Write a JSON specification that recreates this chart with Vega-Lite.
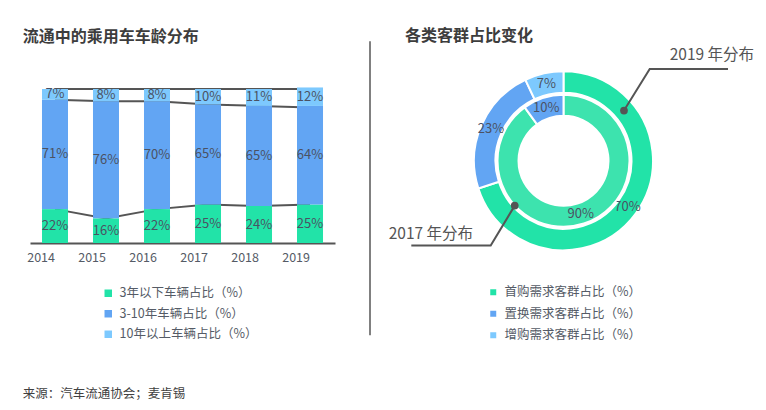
{
  "$schema": "https://vega.github.io/schema/vega-lite/v6.json",
  "background": "white",
  "padding": {"left": 22, "top": 28, "right": 0, "bottom": 0},
  "config": {"view": {"stroke": null}, "font": "Noto Sans CJK SC"},
  "title": {"text": "来源：汽车流通协会；麦肯锡", "orient": "bottom", "anchor": "start", "offset": 46, "fontSize": 12.5, "fontWeight": "normal", "color": "#404040"},
  "spacing": 34,
  "resolve": {"scale": {"color": "independent"}, "legend": {"color": "independent"}},
  "hconcat": [
    {
      "width": 305,
      "height": 154,
      "title": {"text": "流通中的乘用车车龄分布", "anchor": "start", "dx": -4, "offset": 40, "fontSize": 16, "fontWeight": "bold", "color": "#3d3d3d"},
      "layer": [
        {
          "data": {"values": [
            {"year": "2014", "b": "low", "v": 0.22}, {"year": "2015", "b": "low", "v": 0.16}, {"year": "2016", "b": "low", "v": 0.22},
            {"year": "2017", "b": "low", "v": 0.25}, {"year": "2018", "b": "low", "v": 0.24}, {"year": "2019", "b": "low", "v": 0.25},
            {"year": "2014", "b": "mid", "v": 0.93}, {"year": "2015", "b": "mid", "v": 0.92}, {"year": "2016", "b": "mid", "v": 0.92},
            {"year": "2017", "b": "mid", "v": 0.90}, {"year": "2018", "b": "mid", "v": 0.89}, {"year": "2019", "b": "mid", "v": 0.88},
            {"year": "2014", "b": "top", "v": 1.0}, {"year": "2015", "b": "top", "v": 1.0}, {"year": "2016", "b": "top", "v": 1.0},
            {"year": "2017", "b": "top", "v": 1.0}, {"year": "2018", "b": "top", "v": 1.0}, {"year": "2019", "b": "top", "v": 1.0}
          ]},
          "mark": {"type": "line", "color": "#555555", "strokeWidth": 2},
          "encoding": {
            "x": {"field": "year", "type": "ordinal", "scale": {"type": "band", "paddingInner": 0.49, "paddingOuter": 0.235}},
            "y": {"field": "v", "type": "quantitative", "axis": null},
            "detail": {"field": "b", "type": "nominal"}
          }
        },
        {
          "data": {"values": [
            {"year": "2014", "cat": "3年以下车辆占比（%）", "rank": 1, "share": 0.22},
            {"year": "2014", "cat": "3-10年车辆占比（%）", "rank": 2, "share": 0.71},
            {"year": "2014", "cat": "10年以上车辆占比（%）", "rank": 3, "share": 0.07},
            {"year": "2015", "cat": "3年以下车辆占比（%）", "rank": 1, "share": 0.16},
            {"year": "2015", "cat": "3-10年车辆占比（%）", "rank": 2, "share": 0.76},
            {"year": "2015", "cat": "10年以上车辆占比（%）", "rank": 3, "share": 0.08},
            {"year": "2016", "cat": "3年以下车辆占比（%）", "rank": 1, "share": 0.22},
            {"year": "2016", "cat": "3-10年车辆占比（%）", "rank": 2, "share": 0.70},
            {"year": "2016", "cat": "10年以上车辆占比（%）", "rank": 3, "share": 0.08},
            {"year": "2017", "cat": "3年以下车辆占比（%）", "rank": 1, "share": 0.25},
            {"year": "2017", "cat": "3-10年车辆占比（%）", "rank": 2, "share": 0.65},
            {"year": "2017", "cat": "10年以上车辆占比（%）", "rank": 3, "share": 0.10},
            {"year": "2018", "cat": "3年以下车辆占比（%）", "rank": 1, "share": 0.24},
            {"year": "2018", "cat": "3-10年车辆占比（%）", "rank": 2, "share": 0.65},
            {"year": "2018", "cat": "10年以上车辆占比（%）", "rank": 3, "share": 0.11},
            {"year": "2019", "cat": "3年以下车辆占比（%）", "rank": 1, "share": 0.25},
            {"year": "2019", "cat": "3-10年车辆占比（%）", "rank": 2, "share": 0.64},
            {"year": "2019", "cat": "10年以上车辆占比（%）", "rank": 3, "share": 0.12}
          ]},
          "layer": [
            {
              "mark": {"type": "bar"},
              "encoding": {
                "x": {"field": "year", "type": "ordinal", "scale": {"type": "band", "paddingInner": 0.49, "paddingOuter": 0.235},
                  "axis": {"title": null, "labelAngle": 0, "ticks": false, "bandPosition": 0.5, "domainColor": "#555555", "domainWidth": 2, "labelFontSize": 12.5, "labelColor": "#555b66", "labelPadding": 14}},
                "y": {"field": "share", "type": "quantitative", "stack": "zero", "scale": {"domain": [0, 1], "nice": false}, "axis": null},
                "color": {"field": "cat", "type": "nominal",
                  "scale": {"domain": ["3年以下车辆占比（%）", "3-10年车辆占比（%）", "10年以上车辆占比（%）"], "range": ["#22e3a8", "#62a5f3", "#7dc9fe"]},
                  "legend": {"title": null, "orient": "none", "legendX": 72, "legendY": 198, "symbolType": "square", "symbolSize": 56, "labelFontSize": 12.5, "labelColor": "#555b66", "rowPadding": 7.5, "labelOffset": 5}},
                "order": {"field": "rank", "type": "quantitative"}
              }
            },
            {
              "mark": {"type": "text", "fontSize": 13, "color": "#4b5263"},
              "encoding": {
                "x": {"field": "year", "type": "ordinal"},
                "y": {"field": "share", "type": "quantitative", "stack": "zero", "bandPosition": 0.5},
                "detail": {"field": "cat", "type": "nominal"},
                "order": {"field": "rank", "type": "quantitative"},
                "text": {"field": "share", "type": "quantitative", "format": ".0%"}
              }
            }
          ]
        }
      ]
    },
    {
      "width": 387,
      "height": 143.6,
      "title": {"text": "各类客群占比变化", "anchor": "start", "dx": 36, "offset": -4, "fontSize": 16, "fontWeight": "bold", "color": "#3d3d3d"},
      "layer": [
        {
          "data": {"values": [{"x": -2.15, "y": 1.328, "y2": -1.939}]},
          "mark": {"type": "rule", "color": "#808080", "strokeWidth": 2},
          "encoding": {
            "x": {"field": "x", "type": "quantitative", "scale": {"domain": [-2.15, 2.15], "nice": false, "zero": false}, "axis": null},
            "y": {"field": "y", "type": "quantitative", "scale": {"domain": [-0.7978, 0.7978], "nice": false, "zero": false}, "axis": null},
            "y2": {"field": "y2"}
          }
        },
        {
          "data": {"values": [
            {"cat": "首购需求客群占比（%）", "rank": 1, "share": 0.70},
            {"cat": "置换需求客群占比（%）", "rank": 2, "share": 0.23},
            {"cat": "增购需求客群占比（%）", "rank": 3, "share": 0.07}
          ]},
          "layer": [
            {
              "mark": {"type": "arc", "radius": 89.5, "radius2": 68, "stroke": "white", "strokeWidth": 2},
              "encoding": {
                "theta": {"field": "share", "type": "quantitative", "stack": true},
                "order": {"field": "rank", "type": "quantitative"},
                "color": {"field": "cat", "type": "nominal",
                  "scale": {"domain": ["首购需求客群占比（%）", "置换需求客群占比（%）", "增购需求客群占比（%）"], "range": ["#22e3a8", "#62a5f3", "#7dc9fe"]},
                  "legend": {"title": null, "orient": "none", "legendX": 117, "legendY": 197, "symbolType": "square", "symbolSize": 56, "labelFontSize": 12.5, "labelColor": "#555b66", "rowPadding": 7.5, "labelOffset": 5}}
              }
            },
            {
              "mark": {"type": "text", "radius": 79, "fontSize": 13, "color": "#4b5263"},
              "encoding": {
                "theta": {"field": "share", "type": "quantitative", "stack": true},
                "order": {"field": "rank", "type": "quantitative"},
                "detail": {"field": "cat", "type": "nominal"},
                "text": {"field": "share", "type": "quantitative", "format": ".0%"}
              }
            }
          ]
        },
        {
          "data": {"values": [
            {"cat": "首购需求客群占比（%）", "rank": 1, "share": 0.90},
            {"cat": "置换需求客群占比（%）", "rank": 2, "share": 0.10}
          ]},
          "layer": [
            {
              "mark": {"type": "arc", "radius": 66, "radius2": 45, "stroke": "white", "strokeWidth": 2},
              "encoding": {
                "theta": {"field": "share", "type": "quantitative", "stack": true},
                "order": {"field": "rank", "type": "quantitative"},
                "fill": {"field": "cat", "type": "nominal", "scale": {"domain": ["首购需求客群占比（%）", "置换需求客群占比（%）"], "range": ["#3de3ae", "#62a5f3"]}, "legend": null}
              }
            },
            {
              "mark": {"type": "text", "radius": 56, "fontSize": 13, "color": "#4b5263"},
              "encoding": {
                "theta": {"field": "share", "type": "quantitative", "stack": true},
                "order": {"field": "rank", "type": "quantitative"},
                "detail": {"field": "cat", "type": "nominal"},
                "text": {"field": "share", "type": "quantitative", "format": ".0%"}
              }
            }
          ]
        },
        {
          "data": {"values": [
            {"g": "2019", "i": 0, "x": 0.672, "y": 0.558},
            {"g": "2019", "i": 1, "x": 0.958, "y": 1.02},
            {"g": "2019", "i": 2, "x": 1.828, "y": 1.02},
            {"g": "2017", "i": 0, "x": -0.542, "y": -0.498},
            {"g": "2017", "i": 1, "x": -0.809, "y": -0.942},
            {"g": "2017", "i": 2, "x": -1.691, "y": -0.942}
          ]},
          "layer": [
            {
              "mark": {"type": "line", "color": "#555555", "strokeWidth": 2},
              "encoding": {
                "x": {"field": "x", "type": "quantitative"},
                "y": {"field": "y", "type": "quantitative"},
                "detail": {"field": "g", "type": "nominal"},
                "order": {"field": "i", "type": "quantitative"}
              }
            },
            {
              "transform": [{"filter": "datum.i === 0"}],
              "mark": {"type": "point", "filled": true, "color": "#555555", "size": 60, "opacity": 1},
              "encoding": {
                "x": {"field": "x", "type": "quantitative"},
                "y": {"field": "y", "type": "quantitative"}
              }
            }
          ]
        },
        {
          "data": {"values": [
            {"label": "2019 年分布", "x": 1.18, "y": 1.176},
            {"label": "2017 年分布", "x": -1.942, "y": -0.813}
          ]},
          "mark": {"type": "text", "align": "left", "baseline": "middle", "fontSize": 15.5, "color": "#555555"},
          "encoding": {
            "x": {"field": "x", "type": "quantitative"},
            "y": {"field": "y", "type": "quantitative"},
            "text": {"field": "label", "type": "nominal"}
          }
        }
      ]
    }
  ]
}
